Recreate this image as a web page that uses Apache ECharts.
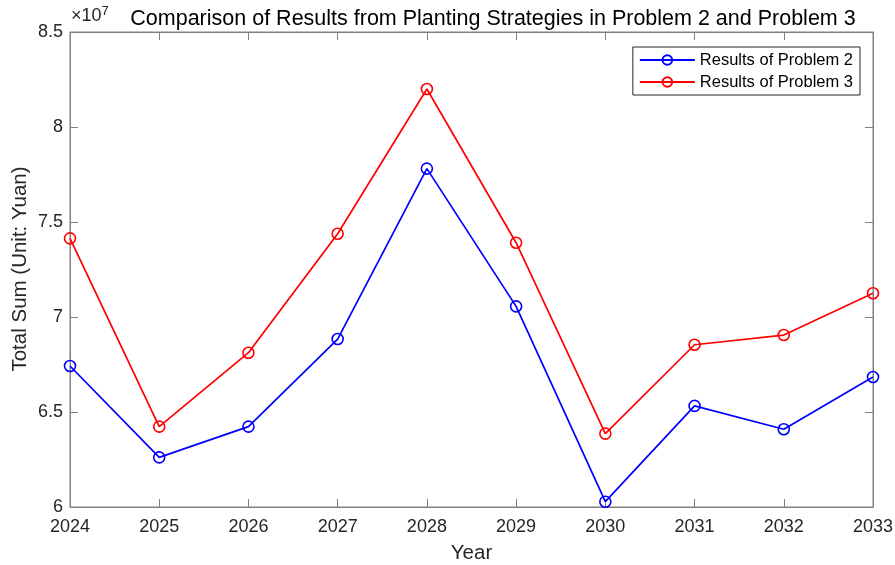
<!DOCTYPE html>
<html>
<head>
<meta charset="utf-8">
<script src="https://cdn.jsdelivr.net/npm/echarts@6/dist/echarts.min.js"></script>
<style>
  html, body { margin: 0; padding: 0; background: #fff; }
  #main { width: 895px; height: 565px; }
</style>
</head>
<body>
<div id="main"></div>
<script>
// data
var years = ['2024', '2025', '2026', '2027', '2028', '2029', '2030', '2031', '2032', '2033'];
var problem2 = [67420000, 62610000, 64230000, 68840000, 77810000, 70560000, 60280000, 65320000, 64090000, 66840000];
var problem3 = [74140000, 64230000, 68120000, 74380000, 82000000, 73910000, 63860000, 68540000, 69050000, 71250000];
var yTicks = [60000000, 85000000, 5000000]; // min, max, step

var font = 'Liberation Sans, Arial, sans-serif';
var axisGray = '#808080';
var textDark = '#262626';

var chart = echarts.init(document.getElementById('main'), null, { renderer: 'canvas' });

var option = {
  backgroundColor: '#fff',
  animation: false,
  textStyle: { fontFamily: font },
  title: {
    text: 'Comparison of Results from Planting Strategies in Problem 2 and Problem 3',
    left: 488,
    textAlign: 'center',
    top: 3,
    textStyle: { fontSize: 21.5, fontWeight: 'normal', color: '#000', fontFamily: font }
  },
  graphic: [{
    type: 'text',
    left: 71,
    top: 5,
    style: {
      text: '×10{sup|7}',
      fontSize: 18,
      fontFamily: font,
      fill: textDark,
      rich: { sup: { fontSize: 13, verticalAlign: 'top', padding: [0, 0, 9, 0], fontFamily: font, fill: textDark } }
    }
  }, {
    // y axis title, placed by hand so it sits where the reference has it
    type: 'text',
    x: 20,
    y: 269,
    rotation: Math.PI / 2,
    style: {
      text: 'Total Sum (Unit: Yuan)',
      fontSize: 20.5,
      fontFamily: font,
      fill: textDark,
      align: 'center',
      verticalAlign: 'middle'
    }
  }],
  legend: {
    orient: 'vertical',
    right: 35,
    top: 47,
    padding: [4, 7, 4, 6],
    itemGap: 4,
    itemWidth: 55,
    itemHeight: 12,
    borderColor: '#262626',
    borderWidth: 1,
    backgroundColor: '#fff',
    textStyle: { fontSize: 16.5, lineHeight: 18, color: '#000', fontFamily: font },
    data: ['Results of Problem 2', 'Results of Problem 3']
  },
  grid: {
    left: 70, right: 22, top: 32, bottom: 58,
    outerBoundsMode: 'none',
    containLabel: false,
    show: true, borderColor: axisGray, borderWidth: 1
  },
  xAxis: [{
    type: 'category',
    data: years,
    boundaryGap: false,
    name: 'Year',
    nameLocation: 'middle',
    nameGap: 36,
    nameTextStyle: { fontSize: 20.5, color: textDark, fontFamily: font },
    axisLine: { lineStyle: { color: axisGray } },
    axisTick: { inside: true, length: 8, lineStyle: { color: axisGray } },
    axisLabel: { fontSize: 18, color: textDark, margin: 11, fontFamily: font },
    splitLine: { show: false }
  }, {
    type: 'category',
    data: years,
    position: 'top',
    boundaryGap: false,
    axisLine: { lineStyle: { color: axisGray } },
    axisTick: { inside: true, length: 8, lineStyle: { color: axisGray } },
    axisLabel: { show: false }
  }],
  yAxis: [{
    type: 'value',
    min: yTicks[0],
    max: yTicks[1],
    interval: yTicks[2],
    axisLine: { show: true, lineStyle: { color: axisGray } },
    axisTick: { show: true, inside: true, length: 8, lineStyle: { color: axisGray } },
    axisLabel: {
      fontSize: 18, color: textDark, margin: 7, fontFamily: font,
      formatter: function (v) { return String(Math.round(v / 1e6) / 10); }
    },
    splitLine: { show: false }
  }, {
    type: 'value',
    position: 'right',
    min: yTicks[0],
    max: yTicks[1],
    interval: yTicks[2],
    axisLine: { show: true, lineStyle: { color: axisGray } },
    axisTick: { show: true, inside: true, length: 8, lineStyle: { color: axisGray } },
    axisLabel: { show: false },
    splitLine: { show: false }
  }],
  series: [{
    name: 'Results of Problem 2',
    type: 'line',
    data: problem2,
    color: '#0000ff',
    symbol: 'circle',
    symbolSize: 11,
    lineStyle: { width: 1.7, color: '#0000ff' },
    itemStyle: { color: 'rgba(0,0,0,0)', borderColor: '#0000ff', borderWidth: 1.6 }
  }, {
    name: 'Results of Problem 3',
    type: 'line',
    data: problem3,
    color: '#ff0000',
    symbol: 'circle',
    symbolSize: 11,
    lineStyle: { width: 1.7, color: '#ff0000' },
    itemStyle: { color: 'rgba(0,0,0,0)', borderColor: '#ff0000', borderWidth: 1.6 }
  }]
};

chart.setOption(option);
</script>
</body>
</html>
